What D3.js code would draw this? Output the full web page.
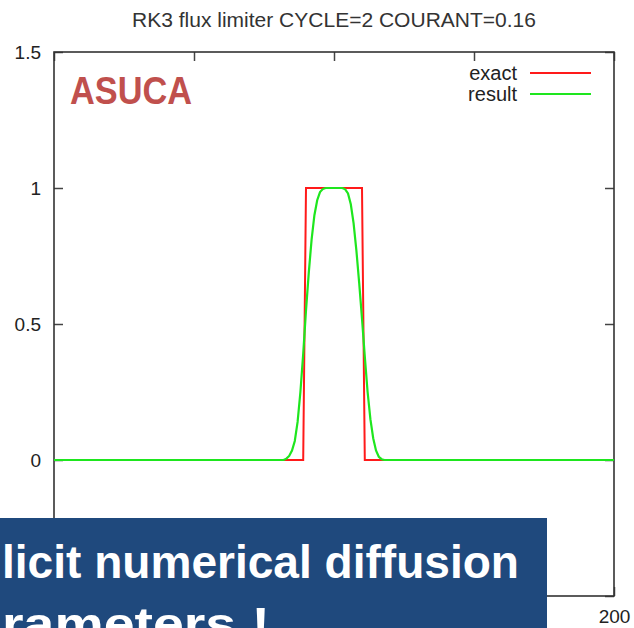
<!DOCTYPE html>
<html lang="en">
<head>
    <meta charset="UTF-8">
    <title>RK3 flux limiter</title>
    <script src="https://d3js.org/d3.v7.min.js"></script>
    <style>
        body { margin: 0; background: #fff; }
        svg { display: block; }
        text { font-family: "Liberation Sans", Arial, sans-serif; }
    </style>
</head>
<body>
    <svg width="634" height="628"></svg>
    <script>
// data
const exactX = [0, 89, 90, 110, 111, 200];
const exactY = [0, 0, 1, 1, 0, 0];

const resultX = [0, 82, 83, 84, 85, 86, 87, 88, 89, 90, 91, 92, 93, 94, 95, 96, 97, 98, 99, 100,
                 101, 102, 103, 104, 105, 106, 107, 108, 109, 110, 111, 112, 113, 114, 115, 116, 117, 118, 200];
const resultY = [0, 0, 0.005, 0.015, 0.035, 0.07, 0.14, 0.25, 0.39, 0.55, 0.69, 0.81, 0.9, 0.955, 0.985, 0.996, 1, 1, 1, 1,
                 1, 1, 1, 0.995, 0.98, 0.94, 0.87, 0.77, 0.65, 0.52, 0.38, 0.25, 0.15, 0.08, 0.035, 0.012, 0.003, 0, 0];

const xTicks = [0, 50, 100, 150, 200];
const yTicks = [-0.5, 0, 0.5, 1, 1.5];
// labels the slide box does not cover
const xLabelled = [200];
const yLabelled = [0, 0.5, 1, 1.5];
const seriesNames = ['exact', 'result'];
const seriesColors = ['#ff1a1a', '#1ee61e'];

const titleText = 'RK3 flux limiter CYCLE=2 COURANT=0.16';

// plot frame
const frame = { left: 54, right: 614, top: 52, bottom: 596 };

const svg = d3.select('svg');

const x = d3.scaleLinear().domain([0, 200]).range([frame.left, frame.right]);
const y = d3.scaleLinear().domain([-0.5, 1.5]).range([frame.bottom, frame.top]);

// title
svg.append('text')
    .attr('x', (frame.left + frame.right) / 2)
    .attr('y', 27)
    .attr('text-anchor', 'middle')
    .attr('font-size', 19.5)
    .attr('fill', '#333')
    .attr('textLength', 404)
    .attr('lengthAdjust', 'spacingAndGlyphs')
    .text(titleText);

// axes: ticks inside the frame, mirrored on the other side
const fmt = d3.format('');
svg.append('g')
    .attr('class', 'y-axis')
    .attr('transform', `translate(${frame.left},0)`)
    .call(d3.axisLeft(y).tickValues(yTicks)
        .tickFormat(d => yLabelled.includes(d) ? fmt(d) : '')
        .tickSizeInner(-9).tickSizeOuter(0).tickPadding(13));

svg.append('g')
    .attr('transform', `translate(${frame.right},0)`)
    .call(d3.axisRight(y).tickValues(yTicks).tickFormat('').tickSizeInner(-9).tickSizeOuter(0));

svg.append('g')
    .attr('class', 'x-axis')
    .attr('transform', `translate(0,${frame.bottom})`)
    .call(d3.axisBottom(x).tickValues(xTicks)
        .tickFormat(d => xLabelled.includes(d) ? fmt(d) : '')
        .tickSizeInner(-9).tickSizeOuter(0).tickPadding(14));

svg.append('g')
    .attr('transform', `translate(0,${frame.top})`)
    .call(d3.axisTop(x).tickValues(xTicks).tickFormat('').tickSizeInner(-9).tickSizeOuter(0));

svg.selectAll('.domain').remove();
svg.selectAll('.tick line').attr('stroke', '#444').attr('stroke-width', 1.5);
svg.selectAll('.tick text')
    .attr('font-family', '"Liberation Sans", Arial, sans-serif')
    .attr('font-size', 19)
    .attr('fill', '#222');

// frame
svg.append('rect')
    .attr('x', frame.left).attr('y', frame.top)
    .attr('width', frame.right - frame.left).attr('height', frame.bottom - frame.top)
    .attr('fill', 'none')
    .attr('stroke', '#333')
    .attr('stroke-width', 1.6);

// series
const line = d3.line()
    .x(d => x(d[0]))
    .y(d => y(d[1]));

const exact = exactX.map((v, i) => [v, exactY[i]]);
const result = resultX.map((v, i) => [v, resultY[i]]);

svg.append('path')
    .datum(exact)
    .attr('fill', 'none')
    .attr('stroke', seriesColors[0])
    .attr('stroke-width', 2)
    .attr('d', line);

svg.append('path')
    .datum(result)
    .attr('fill', 'none')
    .attr('stroke', seriesColors[1])
    .attr('stroke-width', 2.2)
    .attr('d', line);

// legend
seriesNames.forEach((name, i) => {
    const ly = 73 + i * 21;
    svg.append('text')
        .attr('x', 517)
        .attr('y', ly + 7)
        .attr('text-anchor', 'end')
        .attr('font-size', 20)
        .attr('fill', '#222')
        .text(name);
    svg.append('line')
        .attr('x1', 530).attr('x2', 591)
        .attr('y1', ly).attr('y2', ly)
        .attr('stroke', seriesColors[i])
        .attr('stroke-width', 2);
});

// ASUCA label
svg.append('text')
    .attr('x', 70)
    .attr('y', 104)
    .attr('font-family', 'Lato, "Open Sans", sans-serif')
    .attr('font-weight', 'bold')
    .attr('font-size', 38)
    .attr('fill', '#c0504d')
    .attr('textLength', 122)
    .attr('lengthAdjust', 'spacingAndGlyphs')
    .text('ASUCA');

// slide overlay box
svg.append('rect')
    .attr('x', 0).attr('y', 518)
    .attr('width', 547).attr('height', 110)
    .attr('fill', '#1f497d');

svg.append('text')
    .attr('x', 2)
    .attr('y', 578)
    .attr('font-family', 'Lato, "Open Sans", sans-serif')
    .attr('font-weight', 'bold')
    .attr('font-size', 47)
    .attr('fill', '#fff')
    .attr('textLength', 517)
    .attr('lengthAdjust', 'spacingAndGlyphs')
    .text('licit numerical diffusion');

svg.append('text')
    .attr('x', 2)
    .attr('y', 640)
    .attr('font-family', 'Lato, "Open Sans", sans-serif')
    .attr('font-weight', 'bold')
    .attr('font-size', 47)
    .attr('fill', '#fff')
    .attr('textLength', 268)
    .attr('lengthAdjust', 'spacingAndGlyphs')
    .text('rameters !');
    </script>
</body>
</html>
